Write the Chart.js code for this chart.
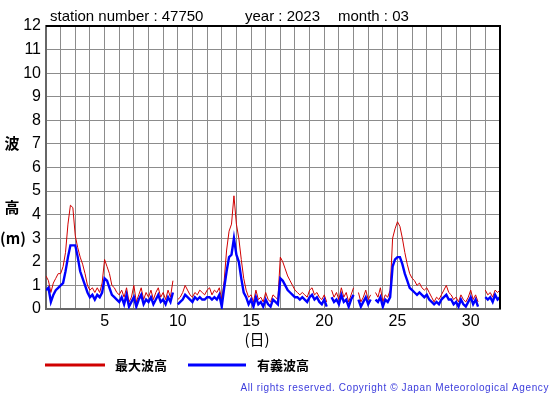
<!DOCTYPE html>
<html>
<head>
<meta charset="utf-8">
<script src="https://cdn.jsdelivr.net/npm/chart.js@4.4.1/dist/chart.umd.min.js"></script>
<style>
html,body{margin:0;padding:0;background:#fff;}
#wrap{width:555px;height:395px;}
</style>
</head>
<body>
<div id="wrap"><canvas id="c" width="555" height="395"></canvas></div>
<script>
// Observation step: 6 samples per day (every 4 hours), starting day 1 00:00
const samplesPerDay = 6;
const startDay = 1;
const xTickLabels = [5, 10, 15, 20, 25, 30];
const yTickLabels = [0,1,2,3,4,5,6,7,8,9,10,11,12];

// 最大波高 (max wave height, m)
const maxWave = [
  1.4,1.2,0.7,1.1,1.3,1.5,   // 1
  1.5,1.8,2.4,3.6,4.4,4.3,   // 2
  3.1,2.6,2.2,1.9,1.5,1.0,   // 3
  0.8,0.9,0.7,0.9,0.7,1.1,   // 4
  2.1,1.8,1.5,1.0,0.9,0.7,   // 5
  0.6,0.8,0.5,0.9,0.3,0.5,   // 6
  1.0,0.3,0.6,0.9,0.4,0.7,   // 7
  0.5,0.8,0.4,0.7,0.9,0.5,   // 8
  0.7,0.4,0.8,0.5,1.2,null,  // 9
  0.4,0.5,0.7,1.0,0.8,0.6,   // 10
  0.5,0.7,0.6,0.8,0.7,0.6,   // 11
  0.8,0.9,0.6,0.8,0.7,0.9,   // 12
  0.4,1.2,2.5,3.3,3.6,4.8,   // 13
  3.6,3.0,2.1,1.3,0.8,0.5,   // 14
  0.6,0.3,0.8,0.4,0.5,0.3,   // 15
  0.7,0.4,0.3,0.6,0.5,0.4,   // 16
  2.2,2.0,1.7,1.4,1.2,1.0,   // 17
  0.8,0.7,0.6,0.7,0.6,0.5,   // 18
  0.8,0.9,0.6,0.7,0.5,0.4,   // 19
  0.6,0.3,null,0.8,0.5,0.7,  // 20
  0.4,0.9,0.5,0.7,0.3,0.6,   // 21
  0.9,null,0.7,0.3,0.5,0.8,  // 22
  0.4,0.6,null,0.7,0.5,0.9,  // 23
  0.3,0.6,0.5,0.8,3.0,3.4,   // 24
  3.7,3.5,3.0,2.4,1.9,1.5,   // 25
  1.3,1.2,1.0,1.1,0.9,0.8,   // 26
  0.9,0.7,0.5,0.3,0.5,0.4,   // 27
  0.6,0.8,1.0,0.7,0.6,0.4,   // 28
  0.5,0.3,0.6,0.4,0.3,0.5,   // 29
  0.8,0.4,0.6,0.3,null,null, // 30
  0.8,0.6,0.7,0.5,0.8,0.7,   // 31
  0.8
];

// 有義波高 (significant wave height, m)
const sigWave = [
  0.8,0.9,0.3,0.6,0.8,0.9,   // 1
  1.0,1.1,1.6,2.2,2.7,2.7,   // 2
  2.7,2.2,1.6,1.3,1.0,0.7,   // 3
  0.5,0.6,0.4,0.6,0.5,0.7,   // 4
  1.3,1.2,0.9,0.6,0.5,0.4,   // 5
  0.3,0.5,0.2,0.6,0.1,0.3,   // 6
  0.5,0.1,0.4,0.6,0.2,0.4,   // 7
  0.3,0.5,0.2,0.4,0.6,0.3,   // 8
  0.4,0.2,0.5,0.3,0.7,null,  // 9
  0.2,0.3,0.4,0.6,0.5,0.4,   // 10
  0.3,0.5,0.4,0.5,0.4,0.4,   // 11
  0.5,0.5,0.4,0.5,0.4,0.6,   // 12
  0.1,0.9,1.6,2.2,2.3,3.0,   // 13
  2.3,2.0,1.3,0.7,0.5,0.2,   // 14
  0.4,0.1,0.5,0.2,0.3,0.1,   // 15
  0.4,0.2,0.1,0.4,0.3,0.2,   // 16
  1.3,1.2,1.0,0.8,0.7,0.6,   // 17
  0.5,0.5,0.4,0.5,0.4,0.3,   // 18
  0.5,0.6,0.4,0.5,0.3,0.2,   // 19
  0.4,0.1,null,0.5,0.3,0.4,  // 20
  0.2,0.6,0.3,0.4,0.1,0.4,   // 21
  0.6,null,0.4,0.1,0.3,0.5,  // 22
  0.2,0.4,null,0.4,0.3,0.5,  // 23
  0.1,0.4,0.3,0.5,1.8,2.1,   // 24
  2.2,2.2,1.9,1.5,1.2,0.9,   // 25
  0.8,0.7,0.6,0.7,0.6,0.5,   // 26
  0.6,0.4,0.3,0.2,0.3,0.2,   // 27
  0.4,0.5,0.6,0.4,0.4,0.2,   // 28
  0.3,0.1,0.4,0.2,0.1,0.3,   // 29
  0.5,0.2,0.4,0.1,null,null, // 30
  0.5,0.4,0.5,0.3,0.6,0.4,   // 31
  0.5
];

const seriesNames = ['最大波高', '有義波高'];
const titleParts = ['station number : 47750', 'year : 2023', 'month : 03'];

function toPoints(arr){
  return arr.map((v,i)=>({x: startDay + i/samplesPerDay, y: v}));
}

const NUMFONT = '"Liberation Sans", Arial, sans-serif';
const CJK = '"Noto Sans CJK JP", sans-serif';

const decor = {
  id: 'decor',
  afterDraw(chart){
    const ctx = chart.ctx;
    const a = chart.chartArea;
    ctx.save();
    // top/right frame
    ctx.strokeStyle = '#000';
    ctx.lineWidth = 2;
    ctx.beginPath();
    ctx.moveTo(a.left, a.top);
    ctx.lineTo(a.right, a.top);
    ctx.lineTo(a.right, a.bottom);
    ctx.stroke();
    // title
    ctx.fillStyle = '#000';
    ctx.font = '15px ' + NUMFONT;
    ctx.textBaseline = 'alphabetic';
    ctx.textAlign = 'left';
    ctx.fillText(titleParts[0], 50, 21);
    ctx.fillText(titleParts[1], 245, 21);
    ctx.fillText(titleParts[2], 338, 21);
    // y axis title
    ctx.font = 'bold 15px ' + CJK;
    ctx.textAlign = 'center';
    ctx.textBaseline = 'middle';
    ctx.fillText('波', 12, 143);
    ctx.fillText('高', 12, 207);
    ctx.fillText('(m)', 13, 238);
    // x axis title
    ctx.font = '15px ' + CJK;
    ctx.fillText('(日)', 257, 339);
    // legend
    const ds = chart.data.datasets;
    const leg = [[45,105,115],[188,246,257]];
    for (let i=0;i<2;i++){
      ctx.strokeStyle = ds[i].borderColor;
      ctx.lineWidth = 3;
      ctx.beginPath();
      ctx.moveTo(leg[i][0], 365);
      ctx.lineTo(leg[i][1], 365);
      ctx.stroke();
      ctx.fillStyle = '#000';
      ctx.font = 'bold 13px ' + CJK;
      ctx.textAlign = 'left';
      ctx.fillText(seriesNames[i], leg[i][2], 365);
    }
    // copyright
    ctx.fillStyle = '#3c3cdc';
    ctx.font = '10px ' + NUMFONT;
    ctx.letterSpacing = '0.6px';
    ctx.textAlign = 'right';
    ctx.fillText('All rights reserved. Copyright © Japan Meteorological Agency', 549, 388);
    ctx.restore();
  }
};

new Chart(document.getElementById('c'), {
  type: 'line',
  data: {
    datasets: [
      {label: seriesNames[0], data: toPoints(maxWave), borderColor: '#d00000', borderWidth: 1, pointRadius: 0, spanGaps: false, tension: 0, order: 2},
      {label: seriesNames[1], data: toPoints(sigWave), borderColor: '#0000ff', borderWidth: 2.4, pointRadius: 0, spanGaps: false, tension: 0, order: 1}
    ]
  },
  options: {
    responsive: false,
    animation: false,
    events: [],
    layout: {padding: {left: 0, right: 55, top: 26, bottom: 55}},
    plugins: {legend: {display: false}, title: {display: false}, tooltip: {enabled: false}},
    scales: {
      x: {
        type: 'linear', min: 1, max: 32,
        afterFit(s){ s.height = 31; },
        afterBuildTicks(s){ const t=[]; for(let d=1; d<=32; d++) t.push({value:d}); s.ticks = t; },
        ticks: {
          autoSkip: false, maxRotation: 0, padding: 3,
          color: '#000', font: {family: NUMFONT, size: 16},
          callback: (v)=> xTickLabels.includes(v) ? String(v) : ''
        },
        grid: {color: '#8c8c8c', lineWidth: 1, drawTicks: false},
        border: {color: '#666', width: 2}
      },
      y: {
        min: 0, max: 12,
        afterFit(s){ s.width = 46; },
        afterBuildTicks(s){ s.ticks = yTickLabels.map(v=>({value:v})); },
        ticks: {
          padding: 5, color: '#000', font: {family: NUMFONT, size: 16},
          callback: (v)=> String(v)
        },
        grid: {color: '#8c8c8c', lineWidth: 1, drawTicks: false},
        border: {color: '#666', width: 2}
      }
    }
  },
  plugins: [decor]
});
</script>
</body>
</html>
